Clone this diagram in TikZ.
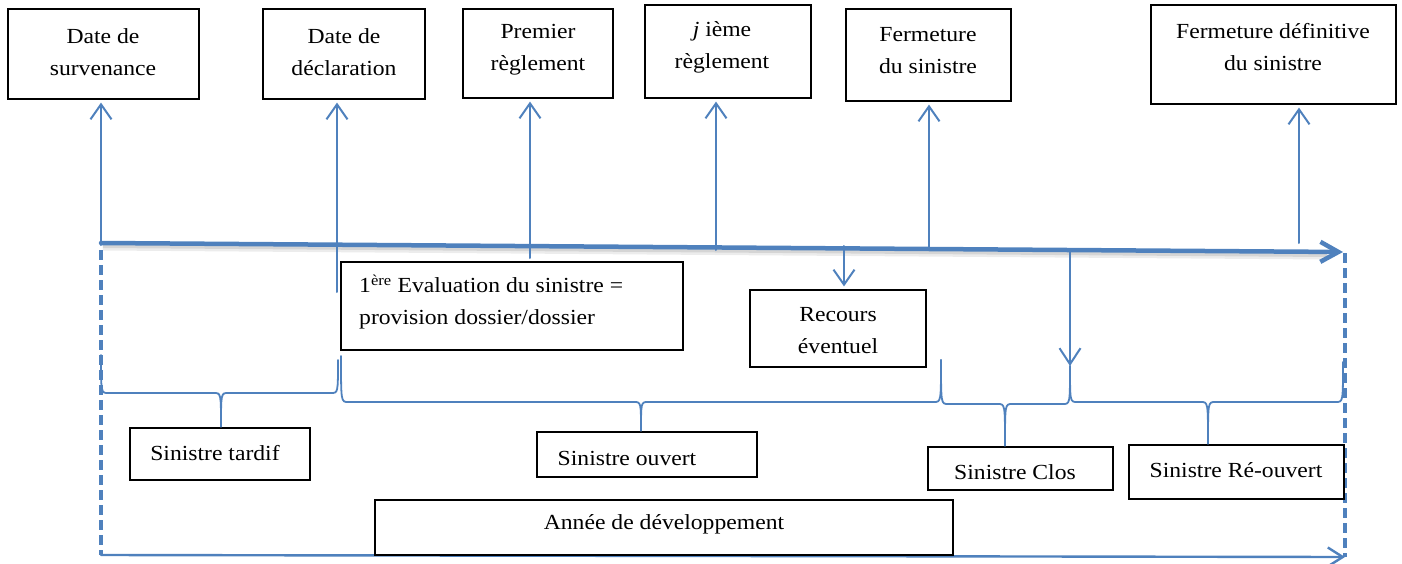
\documentclass[tikz,border=0pt]{standalone}
\usepackage{fontspec}
\setmainfont{Liberation Serif}[FakeStretch=1.1]
\usetikzlibrary{arrows.meta,calc}
\definecolor{wblue}{RGB}{79,129,189}
\newcommand\wordbrace[4]{%
  \draw[brc] let \p1=(#1), \p2=(#2), \p3=(#3) in
    (\p1) .. controls (\x1,#4) and (\x1,#4) .. (\x1+7pt,#4)
    -- (\x3-7pt,#4) .. controls (\x3,#4) and (\x3,#4) .. (\p3)
    .. controls (\x3,#4) and (\x3,#4) .. (\x3+7pt,#4)
    -- (\x2-7pt,#4) .. controls (\x2,#4) and (\x2,#4) .. (\p2);}
\begin{document}
\begin{tikzpicture}[x=1pt,y=-1pt,
  box/.style={draw=black,line width=1.2,fill=white,inner sep=0},
  lbl/.style={font=\fontsize{21.5}{32}\selectfont,align=center,inner sep=0},
  conn/.style={draw=wblue,line width=2,line cap=round},
  uparr/.style={conn,-{Straight Barb[length=15pt,width=21pt,line width=2pt]},shorten >=3pt},
  brc/.style={draw=wblue,line width=1.8,line cap=round},
  dsh/.style={draw=wblue,line width=4,dash pattern=on 10pt off 5pt}
]
\useasboundingbox (0,0) rectangle (1402,564);

% axis
\coordinate (axL) at (101,243);
\coordinate (axR) at (1343,252);
\draw[line width=7,black!15,opacity=.5] ([yshift=-4pt,xshift=2pt]axL) -- ([yshift=-4pt,xshift=-16pt]axR);
\draw[line width=4,black!25,opacity=.5] ([yshift=-3pt,xshift=2pt]axL) -- ([yshift=-3pt,xshift=-16pt]axR);
\draw[draw=wblue,line width=4.5,line cap=round,-{Straight Barb[length=18pt,width=20pt,line width=4.5pt]}] (axL) -- (axR);

% frame of development year
\coordinate (fTL) at (101,250);
\coordinate (fTR) at (1345,253);
\coordinate (fBL) at (101,555);
\coordinate (fBR) at (1345,557);
\draw[dsh] (fTL) -- (fBL);
\draw[dsh] (fTR) -- (fBR);
\draw[draw=wblue,line width=2.4,line cap=round,-{Straight Barb[length=15pt,width=19pt,line width=2.4pt]}] (fBL) -- (fBR);

% top boxes
\node[box,minimum width=191,minimum height=90] (surv) at (103.5,54) {};
\node[box,minimum width=162,minimum height=90] (decl) at (344,54) {};
\node[box,minimum width=150,minimum height=89] (prem) at (538,53.5) {};
\node[box,minimum width=166,minimum height=93] (jth) at (728,51.5) {};
\node[box,minimum width=165,minimum height=92] (ferm) at (928.5,55) {};
\node[box,minimum width=245,minimum height=99] (fdef) at (1273.5,54.5) {};

\node[lbl] (tsurv) at (103,52) {Date de\\survenance};
\node[lbl] (tdecl) at (344,52) {Date de\\déclaration};
\node[lbl] (tprem) at (538,50) {Premier\\règlement};
\node[lbl] (tjth) at (722,47) {\textit{j} ième\\règlement};
\node[lbl] (tferm) at (928,51) {Fermeture\\du sinistre};
\node[lbl] (tfdef) at (1273,47) {Fermeture définitive\\du sinistre};

% vertical arrows up
\coordinate (a1) at (101,245);
\coordinate (a2) at (337,292);
\coordinate (a3) at (530,258);
\coordinate (a4) at (716,250);
\coordinate (a5) at (929,249);
\coordinate (a6) at (1299,243);
\draw[uparr] (a1) -- (a1 |- surv.south);
\draw[uparr] (a2) -- (a2 |- decl.south);
\draw[uparr] (a3) -- (a3 |- prem.south);
\draw[uparr] (a4) -- (a4 |- jth.south);
\draw[uparr] (a5) -- (a5 |- ferm.south);
\draw[uparr] (a6) -- (a6 |- fdef.south);

% middle boxes
\node[box,minimum width=342,minimum height=88] (eval) at (512,306) {};
\node[lbl,align=left,anchor=west] (teval) at (359,302) {1\textsuperscript{ère} Evaluation du sinistre =\\provision dossier/dossier};
\node[box,minimum width=176,minimum height=77] (rec) at (838,328.5) {};
\node[lbl] (trec) at (838,331) {Recours\\éventuel};

% down arrows
\coordinate (d1) at (844,246);
\coordinate (j3) at (1070,366);
\coordinate (d2) at (1070,250);
\draw[uparr] (d1) -- (d1 |- rec.north);
\draw[conn,-{Straight Barb[length=16pt,width=21pt,line width=2pt]}] (d2) -- (j3);

% bottom boxes
\node[box,minimum width=180,minimum height=52] (tardif) at (220,454) {};
\node[lbl] (ttardif) at (215,453) {Sinistre tardif};
\node[box,minimum width=220,minimum height=45] (ouvert) at (647,454.5) {};
\node[lbl] (touvert) at (627,458) {Sinistre ouvert};
\node[box,minimum width=185,minimum height=43] (clos) at (1020.5,468.5) {};
\node[lbl] (tclos) at (1015,472) {Sinistre Clos};
\node[box,minimum width=215,minimum height=54] (reouv) at (1236.5,472) {};
\node[lbl] (treouv) at (1236,470) {Sinistre Ré-ouvert};
\node[box,minimum width=578,minimum height=55] (annee) at (664,527.5) {};
\node[lbl] (tannee) at (664,524) {Année de développement};

% braces
\coordinate (e0) at (101,355);
\coordinate (e1) at (338,360);
\coordinate (e2) at (341,356);
\coordinate (e3) at (941,360);
\coordinate (e4) at (1343,362);
\coordinate (t1) at (221,0);
\coordinate (t2) at (641,0);
\coordinate (t3) at (1005,0);
\coordinate (t4) at (1208,0);
\wordbrace{e0}{e1}{t1 |- tardif.north}{-393pt}
\wordbrace{e2}{e3}{t2 |- ouvert.north}{-402pt}
\wordbrace{e3}{j3}{t3 |- clos.north}{-404pt}
\wordbrace{j3}{e4}{t4 |- reouv.north}{-402pt}
\end{tikzpicture}
\end{document}
